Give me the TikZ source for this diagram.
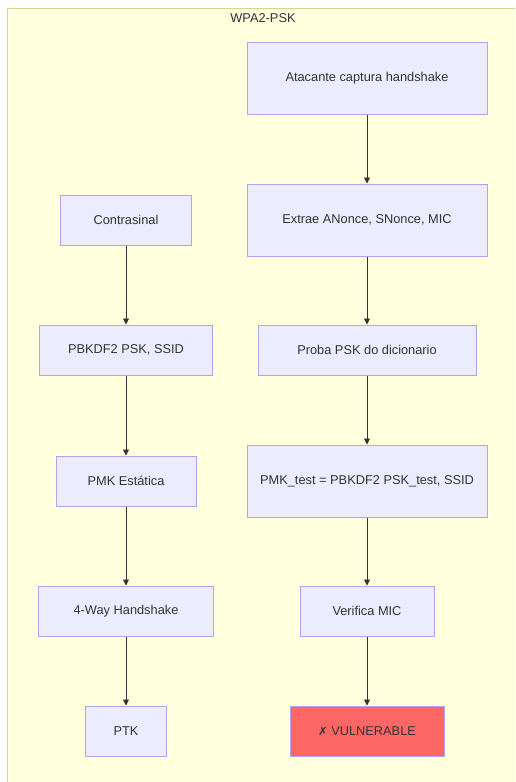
\documentclass[tikz,border=0pt]{standalone}
\usepackage{fontspec}
\setmainfont{Liberation Sans}
\newfontfamily\symfont{DejaVu Sans}
\usetikzlibrary{arrows.meta}
\definecolor{clfill}{HTML}{FFFFDE}
\definecolor{clstroke}{HTML}{D6D68A}
\definecolor{nfill}{HTML}{ECECFF}
\definecolor{nstroke}{HTML}{B7A0EC}
\definecolor{txt}{HTML}{333333}
\definecolor{redfill}{HTML}{FF6666}
\tikzset{
  box/.style={draw=nstroke, fill=nfill, line width=1pt, text=txt, font=\fontsize{12.8}{14}\selectfont, inner sep=0pt, align=center},
  bad/.style={box, fill=redfill},
  flow/.style={draw=txt, line width=0.9pt, -{Triangle[length=6pt,width=6pt]}},
}
\begin{document}
\begin{tikzpicture}[x=1pt,y=-1pt]
\useasboundingbox (0,0) rectangle (515,782);
\begin{scope}
\clip (0,0) rectangle (515,782);
\fill[white] (0,0) rectangle (515,782);
\draw[draw=clstroke, fill=clfill, line width=1.2pt] (7.5,8.5) rectangle (540,800);
\end{scope}
\node[text=txt, font=\fontsize{12.8}{14}\selectfont] (title) at (263,18) {WPA2-PSK};
% right column
\node[box, minimum width=240pt, minimum height=72pt] (a1) at (367,78) {Atacante captura handshake};
\node[box, minimum width=240pt, minimum height=72pt] (a2) at (367,220) {Extrae ANonce, SNonce, MIC};
\node[box, minimum width=218pt, minimum height=50pt] (a3) at (367,350) {Proba PSK do dicionario};
\node[box, minimum width=240pt, minimum height=72pt] (a4) at (367,481) {PMK\_test = PBKDF2 PSK\_test, SSID};
\node[box, minimum width=134pt, minimum height=50pt] (a5) at (367,611) {Verifica MIC};
\node[bad, minimum width=154pt, minimum height=50pt] (a6) at (367,731) {{\symfont\fontsize{11.5}{14}\selectfont ✗} VULNERABLE};
% left column
\node[box, minimum width=131pt, minimum height=50pt] (b1) at (126,220) {Contrasinal};
\node[box, minimum width=173pt, minimum height=50pt] (b2) at (126,350) {PBKDF2 PSK, SSID};
\node[box, minimum width=140pt, minimum height=50pt] (b3) at (126,481) {PMK Estática};
\node[box, minimum width=175pt, minimum height=50pt] (b4) at (126,611) {4-Way Handshake};
\node[box, minimum width=81pt, minimum height=50pt] (b5) at (126,731) {PTK};
\draw[flow] (a1) -- (a2);
\draw[flow] (a2) -- (a3);
\draw[flow] (a3) -- (a4);
\draw[flow] (a4) -- (a5);
\draw[flow] (a5) -- (a6);
\draw[flow] (b1) -- (b2);
\draw[flow] (b2) -- (b3);
\draw[flow] (b3) -- (b4);
\draw[flow] (b4) -- (b5);
\end{tikzpicture}
\end{document}
